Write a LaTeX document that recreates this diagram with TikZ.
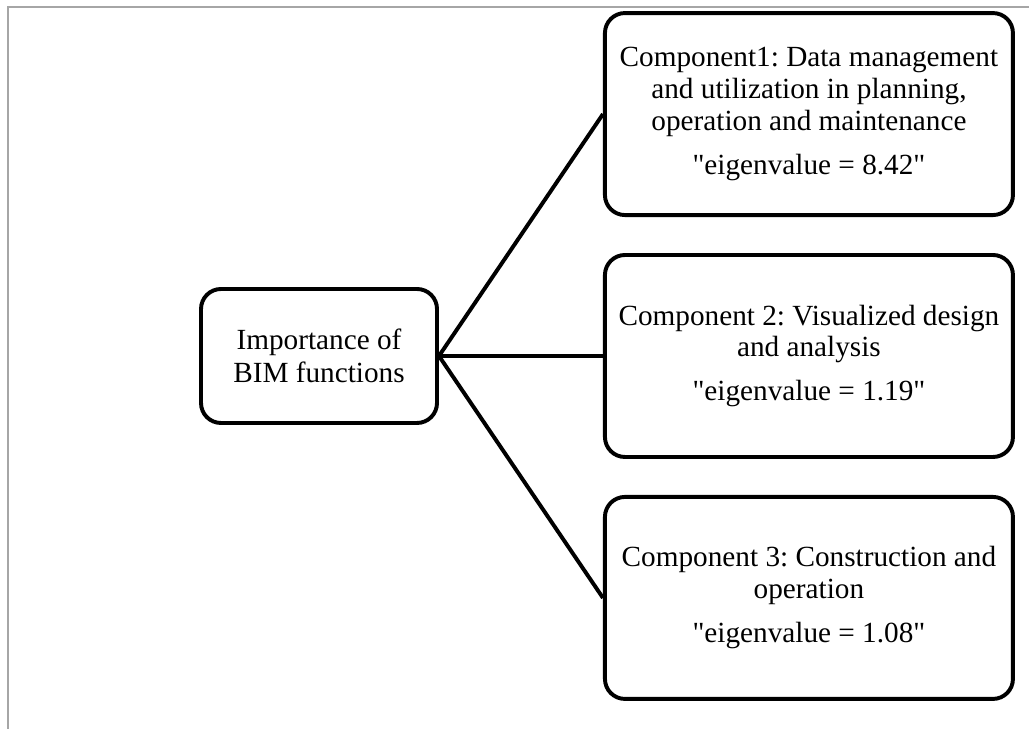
\documentclass[tikz,border=0pt]{standalone}
\usepackage{fontspec}
\setmainfont{Liberation Serif}
\usepackage{tikz}
\usetikzlibrary{positioning}
\frenchspacing

\begin{document}
\begin{tikzpicture}
[ hub/.style={rectangle, rounded corners=0.5cm, draw=black, line width=2.8pt, align=center, inner sep=2pt, minimum height=3.35cm, minimum width=5.9cm, font=\fontsize{20.8}{23}\selectfont},
 comp/.style={rectangle, rounded corners=0.5cm, draw=black, line width=2.8pt, align=center, inner sep=2pt, minimum height=5.05cm, minimum width=10.2cm, font=\fontsize{20.8}{22.5}\selectfont},]
\useasboundingbox (0,0) rectangle (25.725,18.225);
\draw[gray!70, line width=1.4pt] (0.2,0) -- (0.2,18.05) -- (25.725,18.05);
\node[hub] (imp) at (7.975,9.325) {Importance of\\ BIM functions};
\node[comp] (C2) [right=4.1cm of imp] {Component 2: Visualized design\\ and analysis\\[9pt] \textquotedbl eigenvalue = 1.19\textquotedbl};
\node[comp] (C1) [above=0.9cm of C2] {Component1: Data management\\ and utilization in planning,\\ operation and maintenance\\[9pt] \textquotedbl eigenvalue = 8.42\textquotedbl};
\node[comp] (C3) [below=0.9cm of C2] {Component 3: Construction and\\ operation\\[9pt] \textquotedbl eigenvalue = 1.08\textquotedbl};
\draw[-, line width=2.8pt] (imp.east) -- (C1.west);
\draw[-, line width=2.8pt] (imp.east) -- (C2.west);
\draw[-, line width=2.8pt] (imp.east) -- (C3.west);
\end{tikzpicture}
\end{document}
